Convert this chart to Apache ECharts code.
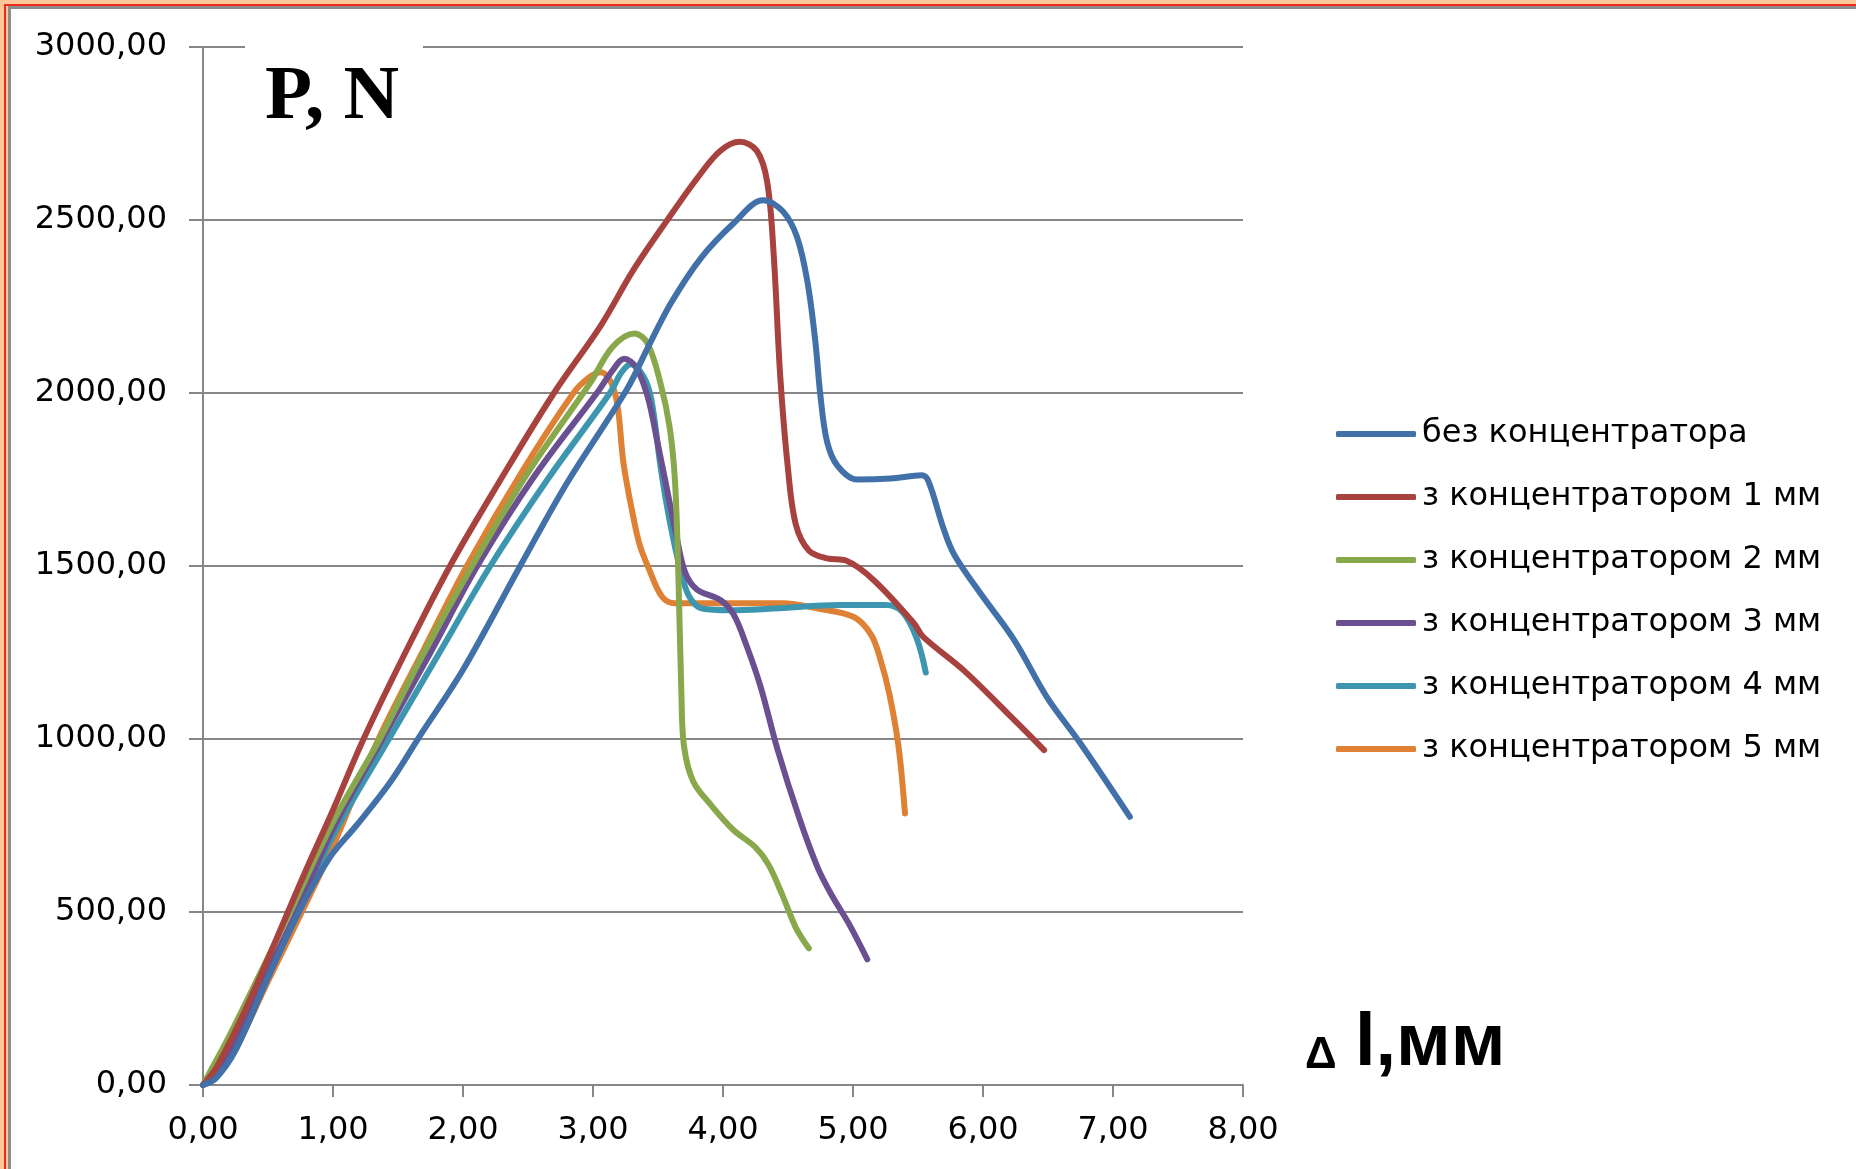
<!DOCTYPE html>
<html><head><meta charset="utf-8">
<script src="https://cdn.jsdelivr.net/npm/echarts@6/dist/echarts.min.js"></script>
<style>html,body{margin:0;padding:0;background:#fff}#c{width:1856px;height:1169px}</style>
</head><body><div id="c"></div>
<script>
const seriesNames = ['без концентратора','з концентратором 1 мм','з концентратором 2 мм','з концентратором 3 мм','з концентратором 4 мм','з концентратором 5 мм'];
const seriesColors = ['#4270A8','#A8423F','#88A84B','#6B5091','#3D96AF','#DF8135'];
const xTicks = [0,1,2,3,4,5,6,7,8];
const yTicks = [0,500,1000,1500,2000,2500,3000];
const yAxisTitle = 'P, N';
const xAxisTitleA = 'Δ';
const xAxisTitleB = 'l,мм';

const dataNone = [[0,0],[0.1,20],[0.25,100],[0.5,310],[0.75,510],[0.98,660],[1.18,750],[1.44,875],[1.67,1010],[2.0,1200],[2.44,1500],[2.8,1740],[3.26,2010],[3.42,2130],[3.6,2260],[3.83,2390],[4.08,2490],[4.31,2557],[4.46,2525],[4.57,2450],[4.65,2320],[4.71,2150],[4.75,1990],[4.80,1860],[4.88,1790],[5.03,1750],[5.29,1753],[5.53,1762],[5.58,1745],[5.70,1604],[5.78,1532],[5.98,1421],[6.24,1286],[6.49,1122],[6.75,987],[7.13,775]];
const dataC1 = [[0,0],[0.107,53],[0.36,245],[0.77,602],[1.0,795],[1.235,1000],[1.55,1245],[1.90,1500],[2.29,1750],[2.70,2000],[3.06,2195],[3.31,2355],[3.57,2499],[3.80,2620],[3.98,2700],[4.13,2726],[4.26,2700],[4.34,2610],[4.39,2400],[4.44,2050],[4.50,1780],[4.56,1620],[4.66,1545],[4.80,1522],[4.95,1515],[5.16,1459],[5.47,1334],[5.54,1295],[5.85,1199],[6.24,1055],[6.47,968]];
const dataC2 = [[0,0],[0.05,35],[0.2,140],[0.45,330],[0.67,500],[1.0,760],[1.36,1000],[1.7,1250],[2.07,1500],[2.5,1770],[2.98,2030],[3.15,2133],[3.32,2172],[3.42,2143],[3.52,2027],[3.59,1900],[3.63,1750],[3.655,1500],[3.68,1130],[3.70,979],[3.77,878],[3.91,808],[4.08,737],[4.25,687],[4.35,637],[4.46,546],[4.56,455],[4.66,395]];
const dataC3 = [[0,0],[0.1,40],[0.25,130],[0.5,330],[0.72,500],[1.0,740],[1.38,1000],[1.75,1250],[2.11,1500],[2.55,1760],[3.03,2000],[3.15,2065],[3.24,2099],[3.33,2075],[3.42,1990],[3.50,1850],[3.57,1720],[3.64,1590],[3.71,1480],[3.80,1432],[3.98,1402],[4.08,1361],[4.18,1271],[4.29,1150],[4.42,969],[4.59,768],[4.73,627],[4.84,546],[4.97,465],[5.11,363]];
const dataC4 = [[0,0],[0.1,30],[0.25,120],[0.5,320],[0.75,510],[1.0,720],[1.43,1000],[1.82,1250],[2.21,1500],[2.65,1750],[3.13,2000],[3.22,2060],[3.29,2083],[3.39,2047],[3.45,1979],[3.52,1786],[3.59,1630],[3.67,1492],[3.74,1412],[3.84,1377],[4.05,1372],[4.39,1377],[4.90,1387],[5.25,1387],[5.38,1367],[5.49,1291],[5.56,1192]];
const dataC5 = [[0,0],[0.1,25],[0.25,105],[0.5,300],[0.76,500],[1.0,690],[1.35,1000],[1.7,1260],[2.03,1500],[2.45,1770],[2.85,2000],[2.97,2045],[3.06,2060],[3.14,2030],[3.19,1960],[3.235,1796],[3.31,1642],[3.36,1560],[3.43,1492],[3.53,1412],[3.63,1392],[4.05,1392],[4.46,1392],[4.73,1377],[5.01,1352],[5.14,1301],[5.21,1231],[5.28,1130],[5.35,979],[5.40,785]];
const allData = [dataNone, dataC1, dataC2, dataC3, dataC4, dataC5];

const fmt = v => v.toFixed(2).replace('.', ',');
const chart = echarts.init(document.getElementById('c'), null, {renderer:'canvas'});
const gray = '#868686';
chart.setOption({
  backgroundColor: '#ffffff',
  animation: false,
  grid: {left: 203, top: 47, width: 1040, height: 1038, containLabel: false},
  xAxis: {
    type: 'value', min: xTicks[0], max: xTicks[xTicks.length-1], interval: 1,
    axisLine: {lineStyle: {color: gray, width: 2}},
    axisTick: {show: true, length: 12, lineStyle: {color: gray, width: 2}},
    splitLine: {show: false},
    axisLabel: {formatter: fmt, color: '#000', fontFamily: 'DejaVu Sans', fontSize: 32, margin: 30}
  },
  yAxis: {
    type: 'value', min: yTicks[0], max: yTicks[yTicks.length-1], interval: 500,
    axisLine: {show: true, lineStyle: {color: gray, width: 2}},
    axisTick: {show: true, length: 14, lineStyle: {color: gray, width: 2}},
    splitLine: {show: true, lineStyle: {color: gray, width: 2}},
    axisLabel: {formatter: fmt, color: '#000', fontFamily: 'DejaVu Sans', fontSize: 32, margin: 36}
  },
  legend: {
    orient: 'vertical', left: 1331, top: 412,
    itemWidth: 80, itemHeight: 6, itemGap: 29, icon: 'roundRect',
    textStyle: {color: '#000', fontFamily: 'DejaVu Sans', fontSize: 32, lineHeight: 34, padding: [0,0,0,1]},
    data: seriesNames
  },
  series: allData.map((d, i) => ({
    name: seriesNames[i], type: 'line', data: d, smooth: 0.35, showSymbol: false, symbol: 'none',
    lineStyle: {color: seriesColors[i], width: 6, cap: 'round', join: 'round'},
    itemStyle: {color: seriesColors[i]}, z: 2 + (5 - i)
  })),
  graphic: [
    {type: 'rect', left: 0, top: 0, shape: {width: 1856, height: 4}, style: {fill: '#FFC898'}, z: 100},
    {type: 'rect', left: 0, top: 4, shape: {width: 1856, height: 2}, style: {fill: '#F02A20'}, z: 100},
    {type: 'rect', left: 6, top: 6, shape: {width: 1850, height: 3}, style: {fill: '#8C8C8C'}, z: 100},
    {type: 'rect', left: 0, top: 0, shape: {width: 4, height: 1169}, style: {fill: '#FFC898'}, z: 100},
    {type: 'rect', left: 4, top: 4, shape: {width: 2, height: 1165}, style: {fill: '#F02A20'}, z: 100},
    {type: 'rect', left: 6, top: 6, shape: {width: 2, height: 1163}, style: {fill: '#FFC898'}, z: 100},
    {type: 'rect', left: 8, top: 8, shape: {width: 3, height: 1161}, style: {fill: '#8C8C8C'}, z: 100},
    {type: 'rect', left: 245, top: 30, shape: {width: 178, height: 110}, style: {fill: '#ffffff'}, z: 50},
    {type: 'text', left: 265, top: 60, z: 60, style: {text: yAxisTitle, fill: '#000', font: 'bold 77px "Liberation Serif"'}},
    {type: 'text', left: 1305, top: 1034, z: 60, style: {text: xAxisTitleA, fill: '#000', font: 'bold 44px "Liberation Sans"'}},
    {type: 'text', left: 1355, top: 1008, z: 60, style: {text: xAxisTitleB, fill: '#000', font: 'bold 74px "Liberation Sans"'}}
  ]
});
</script></body></html>
